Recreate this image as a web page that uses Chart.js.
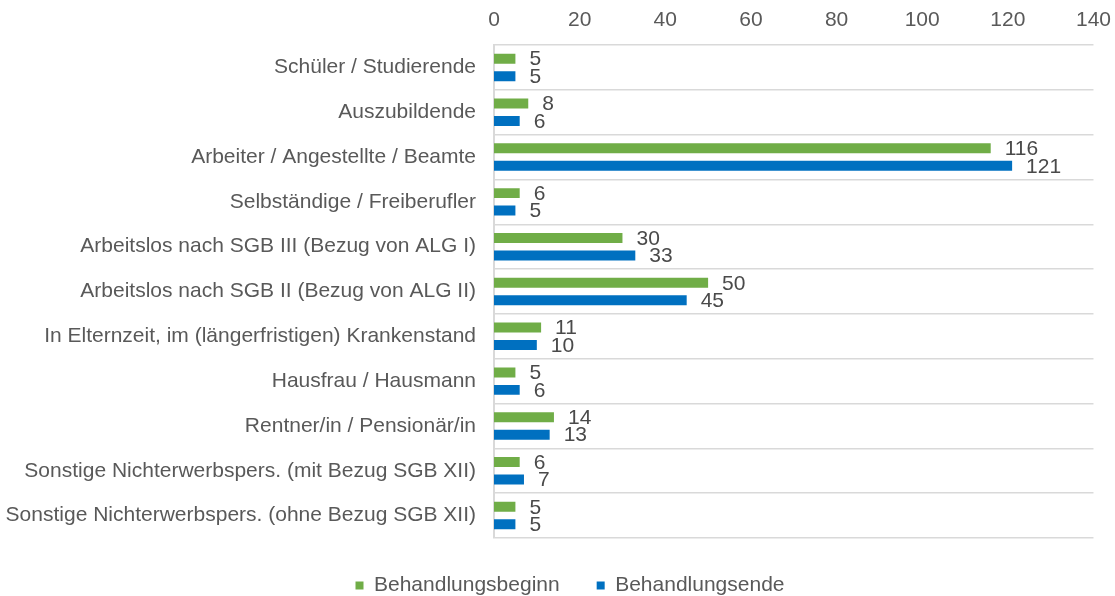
<!DOCTYPE html>
<html>
<head>
<meta charset="utf-8">
<script src="https://cdn.jsdelivr.net/npm/chart.js@4.4.1/dist/chart.umd.min.js"></script>
<style>
  html, body { margin: 0; padding: 0; background: #fff; }
  #wrap { width: 1115px; height: 596px; }
</style>
</head>
<body>
<div id="wrap"><canvas id="chart"></canvas></div>
<script>
// categories and values
var categories = [
    "Schüler / Studierende",
    "Auszubildende",
    "Arbeiter / Angestellte / Beamte",
    "Selbständige / Freiberufler",
    "Arbeitslos nach SGB III (Bezug von ALG I)",
    "Arbeitslos nach SGB II (Bezug von ALG II)",
    "In Elternzeit, im (längerfristigen) Krankenstand",
    "Hausfrau / Hausmann",
    "Rentner/in / Pensionär/in",
    "Sonstige Nichterwerbspers. (mit Bezug SGB XII)",
    "Sonstige Nichterwerbspers. (ohne Bezug SGB XII)"
];
var beginn = [5, 8, 116, 6, 30, 50, 11, 5, 14, 6, 5];
var ende = [5, 6, 121, 5, 33, 45, 10, 6, 13, 7, 5];
var seriesNames = ["Behandlungsbeginn", "Behandlungsende"];

var textColor = "#595959";
var fontFamily = "'Liberation Sans', Arial, sans-serif";

// value labels right of each bar
var valueLabels = {
    id: "valueLabels",
    afterDatasetsDraw: function (chart) {
        var ctx = chart.ctx;
        ctx.save();
        ctx.font = "21px " + fontFamily;
        ctx.fillStyle = "#4a4a4a";
        ctx.textAlign = "left";
        ctx.textBaseline = "middle";
        chart.data.datasets.forEach(function (ds, i) {
            chart.getDatasetMeta(i).data.forEach(function (bar, j) {
                ctx.fillText(String(ds.data[j]), bar.x + 14, bar.y + 1);
            });
        });
        ctx.restore();
    }
};

// push the legend a bit to the right, like the original
var legendShift = {
    id: "legendShift",
    afterLayout: function (chart) {
        chart.legend.left += 22;
        chart.legend.right += 22;
    }
};

new Chart(document.getElementById("chart"), {
    type: "bar",
    data: {
        labels: categories,
        datasets: [{
            label: seriesNames[0],
            data: beginn,
            backgroundColor: "#70AD47",
            categoryPercentage: 0.78,
            barPercentage: 0.57
        }, {
            label: seriesNames[1],
            data: ende,
            backgroundColor: "#0070C0",
            categoryPercentage: 0.78,
            barPercentage: 0.57
        }]
    },
    options: {
        indexAxis: "y",
        responsive: true,
        maintainAspectRatio: false,
        animation: false,
        layout: { padding: { left: 0, right: 19, top: 0, bottom: -10 } },
        scales: {
            x: {
                position: "top",
                min: 0,
                max: 140,
                ticks: { stepSize: 20, color: textColor, font: { size: 21, family: fontFamily }, padding: 4 },
                grid: { display: false },
                border: { display: false },
                afterFit: function (scale) { scale.height = 45; }
            },
            y: {
                ticks: { color: textColor, font: { size: 21, family: fontFamily }, padding: 18, autoSkip: false },
                grid: { color: "#D9D9D9", lineWidth: 1.5, drawTicks: false, offset: true },
                border: { color: "#D9D9D9", width: 2 },
                afterFit: function (scale) { scale.width = 494; }
            }
        },
        plugins: {
            legend: {
                position: "bottom",
                labels: {
                    boxWidth: 8,
                    boxHeight: 8,
                    padding: 37,
                    color: textColor,
                    font: { size: 21, family: fontFamily }
                }
            },
            tooltip: { enabled: false }
        }
    },
    plugins: [valueLabels, legendShift]
});
</script>
</body>
</html>
